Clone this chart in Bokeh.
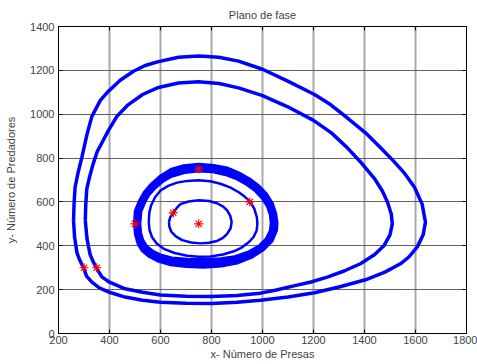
from bokeh.plotting import figure
from bokeh.models import LinearAxis, FixedTicker, Range1d
from bokeh.embed import file_html
from bokeh.resources import INLINE

# Orbit A (inner, through (650,550))
a_x = [633, 638, 650, 663, 678, 710, 750, 790, 822, 846, 862, 874, 879, 875, 862, 845, 822, 790,
       757, 720, 685, 660, 642, 635, 633]
a_y = [508, 530, 549, 572, 590, 602, 608, 604, 594, 579, 560, 535, 508, 480, 455, 436, 422, 414,
       411, 415, 426, 443, 465, 487, 508]

# Orbit B (through (950,600))
b_x = [554, 556, 563, 578, 600, 630, 665, 705, 750, 795, 835, 873, 907, 932, 953, 968, 978, 980,
       977, 965, 946, 920, 888, 845, 796, 750, 705, 655, 613, 585, 567, 557, 554]
b_y = [508, 550, 584, 620, 652, 673, 688, 696, 699, 694, 683, 666, 644, 622, 599, 568, 530, 500,
       470, 440, 416, 393, 375, 360, 351, 350, 355, 367, 386, 410, 439, 472, 508]

# Orbit C band (through (500,500) and (750,750)) - outer and inner edges
c_out_x = [495, 498, 515, 535, 561, 597, 639, 690, 750, 810, 862, 910, 953, 990, 1019, 1042, 1055,
           1060, 1058, 1040, 1005, 960, 901, 840, 770, 700, 639, 590, 554, 525, 509, 499, 495]
c_out_y = [500, 560, 607, 648, 683, 720, 751, 768, 775, 770, 758, 735, 706, 673, 637, 593, 546,
           505, 470, 420, 379, 345, 318, 304, 299, 302, 310, 327, 348, 377, 409, 450, 500]
c_in_x = [522, 526, 542, 558, 580, 610, 645, 695, 750, 805, 855, 898, 935, 968, 995, 1016, 1028,
          1031, 1028, 1012, 985, 945, 890, 835, 770, 705, 645, 600, 572, 548, 533, 525, 522]
c_in_y = [500, 555, 600, 632, 660, 690, 714, 731, 738, 734, 721, 702, 678, 650, 617, 580, 540,
          505, 470, 433, 402, 375, 354, 344, 341, 342, 348, 362, 378, 400, 428, 460, 500]

# Orbit D (through (350,300))
d_x = [305, 307, 311, 322, 335, 352, 375, 396, 429, 470, 530, 592, 670, 749, 830, 906, 1000, 1097,
       1200, 1270, 1330, 1390, 1440, 1470, 1490, 1505, 1509, 1500, 1476, 1440, 1384, 1320, 1254,
       1190, 1123, 1050, 992, 900, 800, 700, 600, 530, 461, 400, 370, 348, 335, 324, 312, 305]
d_y = [515, 590, 660, 715, 770, 830, 880, 926, 990, 1040, 1090, 1122, 1142, 1148, 1140, 1120, 1085,
       1035, 972, 915, 850, 775, 705, 650, 600, 545, 500, 450, 400, 360, 318, 285, 257, 235, 217,
       197, 184, 173, 169, 170, 176, 188, 204, 234, 258, 300, 330, 360, 430, 515]

# Orbit E (outermost, through (300,300))
e_x = [259, 261, 265, 278, 291, 311, 331, 364, 396, 442, 494, 540, 592, 671, 749, 828, 906, 1000,
       1097, 1204, 1265, 1319, 1404, 1465, 1515, 1554, 1596, 1626, 1639, 1630, 1607, 1575, 1541,
       1480, 1404, 1300, 1204, 1100, 992, 900, 800, 700, 600, 530, 461, 400, 360, 331, 310, 298,
       283, 272, 263, 259]
e_y = [515, 590, 667, 740, 800, 905, 990, 1063, 1105, 1155, 1196, 1222, 1240, 1260, 1266, 1260,
       1242, 1205, 1152, 1090, 1045, 996, 915, 845, 785, 735, 667, 590, 508, 450, 395, 350, 318,
       280, 245, 212, 186, 166, 152, 142, 137, 138, 143, 152, 166, 188, 208, 234, 262, 300, 335,
       370, 440, 515]

# Initial conditions (red asterisks)
start_x = [750, 650, 500, 750, 950, 300, 350]
start_y = [500, 550, 500, 750, 600, 300, 300]

x_ticks = [200, 400, 600, 800, 1000, 1200, 1400, 1600, 1800]
y_ticks = [0, 200, 400, 600, 800, 1000, 1200, 1400]

FONT = "Liberation Sans"
BLUE = "#0000ff"

p = figure(width=477, height=364, output_backend="svg", toolbar_location=None,
           x_range=Range1d(200, 1800), y_range=Range1d(0, 1400),
           min_border_left=58, min_border_right=11, min_border_top=26, min_border_bottom=31,
           title="Plano de fase")
p.title.align = "center"
p.title.text_font = FONT
p.title.text_font_size = "11px"
p.title.text_font_style = "normal"
p.title.offset = 0
p.title.standoff = 11

p.outline_line_color = "black"
p.outline_line_width = 1

for ax in [p.xaxis[0], p.yaxis[0]]:
    ax.major_label_text_font = FONT
    ax.major_label_text_font_size = "11px"
    ax.axis_label_text_font = FONT
    ax.axis_label_text_font_size = "11px"
    ax.axis_label_text_font_style = "normal"
    ax.major_tick_in = 4
    ax.major_tick_out = 0
    ax.minor_tick_in = 0
    ax.minor_tick_out = 0
    ax.axis_line_color = "black"

p.xaxis[0].ticker = FixedTicker(ticks=x_ticks)
p.yaxis[0].ticker = FixedTicker(ticks=y_ticks)
p.xaxis[0].axis_label = "x- Número de Presas"
p.yaxis[0].axis_label = "y- Número de Predadores"
p.xaxis[0].major_label_standoff = 2
p.xaxis[0].axis_label_standoff = 1
p.yaxis[0].major_label_standoff = 4
p.yaxis[0].axis_label_standoff = 10

top_ax = LinearAxis(ticker=FixedTicker(ticks=x_ticks), major_label_text_font_size="1px",
                    major_label_text_color=None,
                    major_tick_in=4, major_tick_out=0, minor_tick_in=0, minor_tick_out=0,
                    major_label_standoff=0)
right_ax = LinearAxis(ticker=FixedTicker(ticks=y_ticks), major_label_text_font_size="1px",
                      major_label_text_color=None,
                      major_tick_in=4, major_tick_out=0, minor_tick_in=0, minor_tick_out=0,
                      major_label_standoff=0)
p.add_layout(top_ax, "above")
p.add_layout(right_ax, "right")

p.xgrid.ticker = FixedTicker(ticks=x_ticks)
p.ygrid.ticker = FixedTicker(ticks=y_ticks)
p.xgrid.grid_line_color = "#a8a8a8"
p.xgrid.grid_line_width = 2
p.ygrid.grid_line_color = "#606060"
p.ygrid.grid_line_width = 1

# Orbits
p.multi_polygons(xs=[[[c_out_x, c_in_x]]], ys=[[[c_out_y, c_in_y]]],
                 fill_color=BLUE, line_color=BLUE, line_width=1.5)
p.line(a_x, a_y, line_color=BLUE, line_width=2.5)
p.line(b_x, b_y, line_color=BLUE, line_width=2.5)
p.line(d_x, d_y, line_color=BLUE, line_width=3.5)
p.line(e_x, e_y, line_color=BLUE, line_width=3.5)

p.scatter(start_x, start_y, marker="asterisk", size=9, line_color="red", line_width=1.1)

open("out.html", "w").write(file_html(p, INLINE))
